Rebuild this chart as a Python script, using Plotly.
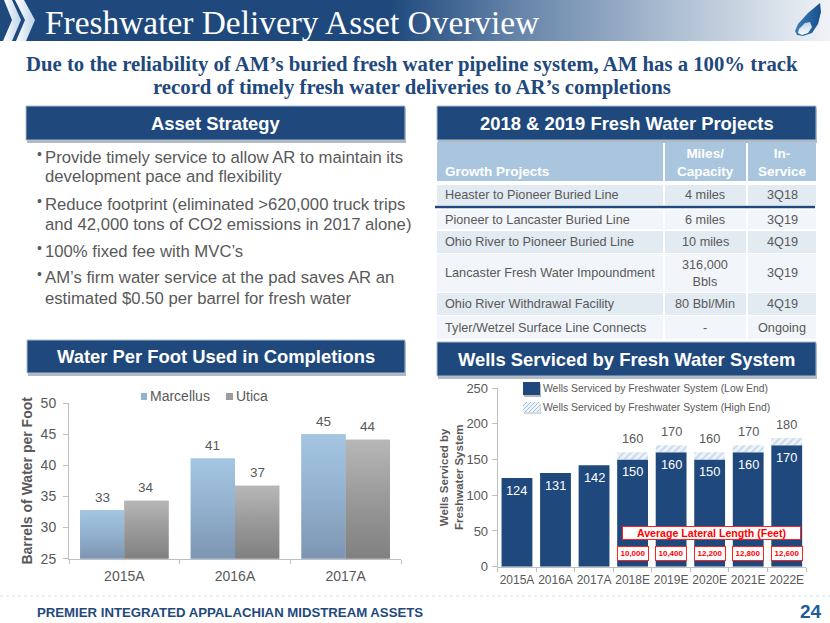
import plotly.graph_objects as go

W, H = 830, 623
NAVY = "#1f497d"
GREY = "#595959"
SANS = "Liberation Sans"
SERIF = "Liberation Serif"

# ---------- data ----------
water_years = ["2015A", "2016A", "2017A"]
marcellus = [32.8, 41.1, 45.0]
utica = [34.3, 36.7, 44.1]

well_years = ["2015A", "2016A", "2017A", "2018E", "2019E", "2020E", "2021E", "2022E"]
wells_low = [124, 131, 142, 150, 160, 150, 160, 170]
wells_high_extra = [None, None, None, 10, 10, 10, 10, 10]
lateral_labels = ["10,000", "10,400", "12,200", "12,800", "12,600"]

title_text = "Freshwater Delivery Asset Overview"
subtitle_lines = [
    "Due to the reliability of AM’s buried fresh water pipeline system, AM has a 100% track",
    "record of timely fresh water deliveries to AR’s completions",
]
bullet_lines = [
    ("•", "Provide timely service to allow AR to maintain its", 157),
    ("", "development pace and flexibility", 176),
    ("•", "Reduce footprint (eliminated >620,000 truck trips", 204),
    ("", "and 42,000 tons of CO2 emissions in 2017 alone)", 224),
    ("•", "100% fixed fee with MVC’s", 251),
    ("•", "AM’s firm water service at the pad saves AR an", 277),
    ("", "estimated $0.50 per barrel for fresh water", 298),
]
table_projects = [
    "Heaster to Pioneer Buried Line", "Pioneer to Lancaster Buried Line",
    "Ohio River to Pioneer Buried Line", "Lancaster Fresh Water Impoundment",
    "Ohio River Withdrawal Facility", "Tyler/Wetzel Surface Line Connects",
]
table_capacity = ["4 miles", "6 miles", "10 miles", "316,000<br>Bbls", "80 Bbl/Min", "-"]
table_service = ["3Q18", "3Q19", "4Q19", "3Q19", "4Q19", "Ongoing"]
table_rows_y = [(185, 205), (210, 229), (231, 253), (254, 292), (293, 315), (316, 339)]
table_rows_fill = ["#e2eaf2", "#f2f5f9", "#e2eaf2", "#f2f5f9", "#e2eaf2", "#f2f5f9"]
table_cols_x = [(437, 663), (665, 746), (748, 816)]
header_bars = [
    ("Asset Strategy", 26, 405, 106, 140),
    ("2018 & 2019 Fresh Water Projects", 437, 816, 106, 140),
    ("Water Per Foot Used in Completions", 27, 405, 340, 373),
    ("Wells Serviced by Fresh Water System", 437, 816, 342, 376),
]

fig = go.Figure()
shapes, notes = [], []


def page_note(x, y, text, size, color=GREY, bold=False, family=SANS, anchor="center", **kw):
    notes.append(dict(
        x=x, y=y, xref="x", yref="y", text=f"<b>{text}</b>" if bold else text,
        showarrow=False, xanchor=anchor, yanchor="middle", align=anchor if anchor != "middle" else "center",
        font=dict(size=size, color=color, family=family), **kw))


def page_rect(x0, x1, y0, y1, fill, line=None):
    shapes.append(dict(type="rect", xref="x", yref="y", x0=x0, x1=x1, y0=y0, y1=y1,
                       fillcolor=fill, line=dict(width=1 if line else 0, color=line or fill), layer="below"))


def poly(xs, ys, color=None, grad=None, ax="x", ay="y"):
    t = dict(x=xs + xs[:1], y=ys + ys[:1], mode="lines", fill="toself", line=dict(width=0),
             showlegend=False, hoverinfo="skip", xaxis=ax, yaxis=ay)
    if grad:
        t["fillgradient"] = grad
    else:
        t["fillcolor"] = color
    fig.add_trace(go.Scatter(**t))


# ---------- banner ----------
poly([0, 830, 830, 0], [0, 0, 41, 41], grad=dict(
    type="horizontal", start=0, stop=830,
    colorscale=[[0, NAVY], [0.47, NAVY], [0.62, "#6483a8"], [0.8, "#a9bbd0"], [1, "#f0f3f7"]]))
chev = dict(type="horizontal", colorscale=[[0, "#ffffff"], [1, "#bcd4e8"]])
poly([4, 12, 21, 12, 3, 12], [0, 0, 20, 41, 41, 20], grad=chev)
poly([15, 24, 35, 26, 16, 25], [0, 0, 20, 41, 41, 20], grad=chev)
poly([820, 808, 798, 795, 797, 803, 812, 818, 821], [3, 13, 24, 31, 35, 36, 33, 24, 12], grad=dict(
    type="horizontal", colorscale=[[0, "#3f7fb8"], [1, "#174f8c"]]))
poly([805, 799, 798, 802, 808, 812, 810], [23, 29, 33, 35, 33, 27, 22], grad=dict(
    type="vertical", colorscale=[[0, "#ffffff"], [1, "#b9d0e6"]]))
page_note(43, 22, title_text, 33.4, color="#ffffff", family=SERIF, anchor="left")
page_note(411.5, 64, subtitle_lines[0], 20.75, color=NAVY, bold=True, family=SERIF)
page_note(411.5, 87, subtitle_lines[1], 20.75, color=NAVY, bold=True, family=SERIF)

# ---------- section headers ----------
for text, x0, x1, y0, y1 in header_bars:
    page_rect(x0 + 1, x1 + 1, y0 + 2, y1 + 3, "#b4b9bf")
    page_rect(x0, x1, y0, y1, NAVY, line="#a7bdd4")
    page_note((x0 + x1) / 2, (y0 + y1) / 2, text, 18.4, color="#ffffff", bold=True)

# ---------- bullets ----------
for mark, text, y in bullet_lines:
    if mark:
        page_note(39, y - 3, mark, 14, color=GREY, anchor="center")
    page_note(43, y, text, 16.7, color=GREY, anchor="left")

# ---------- table ----------
for (x0, x1) in table_cols_x:
    page_rect(x0, x1, 142, 181, "#a9c6de")
    for (y0, y1), fill in zip(table_rows_y, table_rows_fill):
        page_rect(x0, x1, y0, y1, fill)
page_note(443, 171, "Growth Projects", 13.5, color="#ffffff", bold=True, anchor="left")
page_note(705, 162, "Miles/<br>Capacity", 13.5, color="#ffffff", bold=True)
page_note(782, 162, "In-<br>Service", 13.5, color="#ffffff", bold=True)
for (y0, y1), p, c, s in zip(table_rows_y, table_projects, table_capacity, table_service):
    ym = (y0 + y1) / 2
    page_note(443, ym, p, 12.7, anchor="left")
    page_note(705, ym, c, 12.7)
    page_note(782, ym, s, 12.7)
shapes.append(dict(type="line", xref="x", yref="y", x0=435, x1=815, y0=207, y1=207,
                   line=dict(color=NAVY, width=2.5), layer="above"))

# ---------- footer ----------
shapes.append(dict(type="line", xref="x", yref="y", x0=0, x1=830, y0=596, y1=596,
                   line=dict(color="#e4ebf3", width=1.5, dash="dot"), layer="below"))
page_note(35, 612, "PREMIER INTEGRATED APPALACHIAN MIDSTREAM ASSETS", 13.2, color=NAVY, bold=True,
          anchor="left")
page_note(810.5, 611, "24", 19, color="#1f5c99", bold=True)

# ---------- left chart ----------
xs_left = list(range(len(water_years)))
half = 0.4
for name, vals, off, color, grad in [
    ("Marcellus", marcellus, -half / 2, "#a3c4e0", [[0, "#7d95b2"], [0.55, "#93b3d0"], [1, "#a5c6e2"]]),
    ("Utica", utica, half / 2, "#b0b0b0", [[0, "#808080"], [0.55, "#9c9c9c"], [1, "#b7b7b7"]]),
]:
    fig.add_trace(go.Bar(
        x=xs_left, y=vals, name=name, xaxis="x2", yaxis="y2", marker=dict(color=color, line=dict(width=0)),
        showlegend=False, hoverinfo="x+y+name"))
    for x, v in zip(xs_left, vals):
        left = x + off - half / 2
        poly([left, left + half, left + half, left], [25, 25, v, v],
             grad=dict(type="vertical", start=25, stop=v, colorscale=grad), ax="x2", ay="y2")
        notes.append(dict(x=x + off, y=v, xref="x2", yref="y2", text=f"{v:.0f}", showarrow=False,
                          yanchor="middle", yshift=13, font=dict(size=13.5, color=GREY, family=SANS)))

# left legend
page_rect(141, 147, 393, 400, "#8fb3d3")
page_note(148, 396, "Marcellus", 14, anchor="left")
page_rect(226, 233, 393, 400, "#9c9c9c")
page_note(234, 396, "Utica", 14, anchor="left")

# ---------- right chart ----------
xs_right = list(range(len(well_years)))
wells_total = [l + h if h else None for l, h in zip(wells_low, wells_high_extra)]
fig.add_trace(go.Bar(
    x=xs_right, y=wells_low, name="Wells Serviced by Freshwater System (Low End)", xaxis="x3", yaxis="y3",
    offsetgroup="wells", marker=dict(color=NAVY, line=dict(width=0)), showlegend=False))
fig.add_trace(go.Bar(
    x=xs_right, y=wells_high_extra, base=wells_low, name="Wells Serviced by Freshwater System (High End)",
    xaxis="x3", yaxis="y3", offsetgroup="wells",
    marker=dict(color="#eef3f8", line=dict(width=0),
                pattern=dict(shape="/", fgcolor="#a3c2dc", bgcolor="#eef3f8", size=5, solidity=0.4)),
    showlegend=False))
for x, low, t in zip(xs_right, wells_low, wells_total):
    notes.append(dict(x=x, y=low, xref="x3", yref="y3", text=str(low), showarrow=False, yanchor="middle",
                      yshift=-12.5, font=dict(size=12.8, color="#ffffff", family=SANS)))
    if t:
        notes.append(dict(x=x, y=t, xref="x3", yref="y3", text=str(t), showarrow=False, yanchor="middle",
                          yshift=14, font=dict(size=12.8, color=GREY, family=SANS)))

# right legend
page_rect(524, 541, 384, 397, "#b4b9bf")
page_rect(523, 540, 382, 395, NAVY)
page_rect(524, 541, 404, 414, "#d5d8dc")
page_rect(523, 540, 402, 412, "#eef3f8")
for k in range(0, 27, 4):
    xa, xb = max(523, 523 + k - 10), min(540, 523 + k)
    ya, yb = 402 + (k - (xb - 523)), 412 - ((xa - (523 + k - 10)))
    shapes.append(dict(type="line", xref="x", yref="y", x0=xa, x1=xb, y0=yb, y1=ya,
                       line=dict(color="#a3c2dc", width=1), layer="below"))
page_note(541, 388, "Wells Serviced by Freshwater System (Low End)", 10.4, anchor="left")
page_note(541, 407, "Wells Serviced by Freshwater System (High End)", 10.4, anchor="left")

for i, lab in zip(xs_right[3:], lateral_labels):
    notes.append(dict(x=i, y=19, xref="x3", yref="y3", text=f"<b>{lab}</b>", showarrow=False,
                      font=dict(size=8, color="#ff0000", family=SANS), bgcolor="#ffffff",
                      bordercolor="#ff2020", borderwidth=1, width=30, height=13, borderpad=0))
page_note(711.5, 533, "Average Lateral Length (Feet)", 10.6, color="#ff0000", bold=True,
          bgcolor="#ffffff", bordercolor="#ff2020", borderwidth=1, width=177, height=12, borderpad=0)


def dom(a, b, size):
    return [a / size, b / size]


axis_common = dict(showgrid=False, zeroline=False, showline=True, linecolor="#bfbfbf", linewidth=1,
                   ticks="outside", tickcolor="#bfbfbf", ticklen=5, tickfont=dict(color=GREY, family=SANS))
fig.update_layout(
    width=W, height=H, margin=dict(l=0, r=0, t=0, b=0, pad=0, autoexpand=False), autosize=False,
    paper_bgcolor="#ffffff", plot_bgcolor="rgba(0,0,0,0)", showlegend=False,
    barmode="group", bargap=0.2, bargroupgap=0, font=dict(family=SANS, color=GREY),
    shapes=shapes, annotations=notes, hovermode="closest",
    xaxis=dict(domain=[0, 1], range=[0, W], visible=False, fixedrange=True),
    yaxis=dict(domain=[0, 1], range=[H, 0], visible=False, fixedrange=True),
    xaxis2=dict(axis_common, domain=dom(69, 401, W), range=[-0.5, 2.5], anchor="y2", tickangle=0,
                tickvals=xs_left, ticktext=water_years, ticks="", ticklabelstandoff=4,
                tickfont=dict(size=14, color=GREY, family=SANS),
                minor=dict(tickvals=[-0.5, 0.5, 1.5, 2.5], ticks="outside", ticklen=4, tickcolor="#bfbfbf")),
    yaxis2=dict(axis_common, domain=dom(H - 558.7, H - 403, H), range=[25, 50], dtick=5, anchor="x2",
                tickfont=dict(size=14, color=GREY, family=SANS), ticklabelstandoff=4, automargin=True,
                title=dict(text="<b>Barrels of Water per Foot</b>", font=dict(size=14, color=GREY, family=SANS), standoff=4)),
    xaxis3=dict(axis_common, domain=dom(497.7, 806, W), range=[-0.5, 7.5], anchor="y3", tickangle=0,
                tickvals=xs_right, ticktext=well_years, ticks="", ticklabelstandoff=2,
                tickfont=dict(size=12, color=GREY, family=SANS),
                minor=dict(tickvals=[i - 0.5 for i in range(9)], ticks="outside", ticklen=4, tickcolor="#bfbfbf")),
    yaxis3=dict(axis_common, domain=dom(H - 566.7, H - 388, H), range=[0, 250], dtick=50, anchor="x3",
                tickfont=dict(size=13, color=GREY, family=SANS), ticklabelstandoff=1, automargin=True,
                title=dict(text="<b>Wells Serviced by<br>Freshwater System</b>", font=dict(size=11.5, color=GREY, family=SANS), standoff=0)),
)

fig.write_html("out.html", post_script="document.body.style.margin='0';document.body.style.overflow='hidden';",
               config=dict(displayModeBar=False))
